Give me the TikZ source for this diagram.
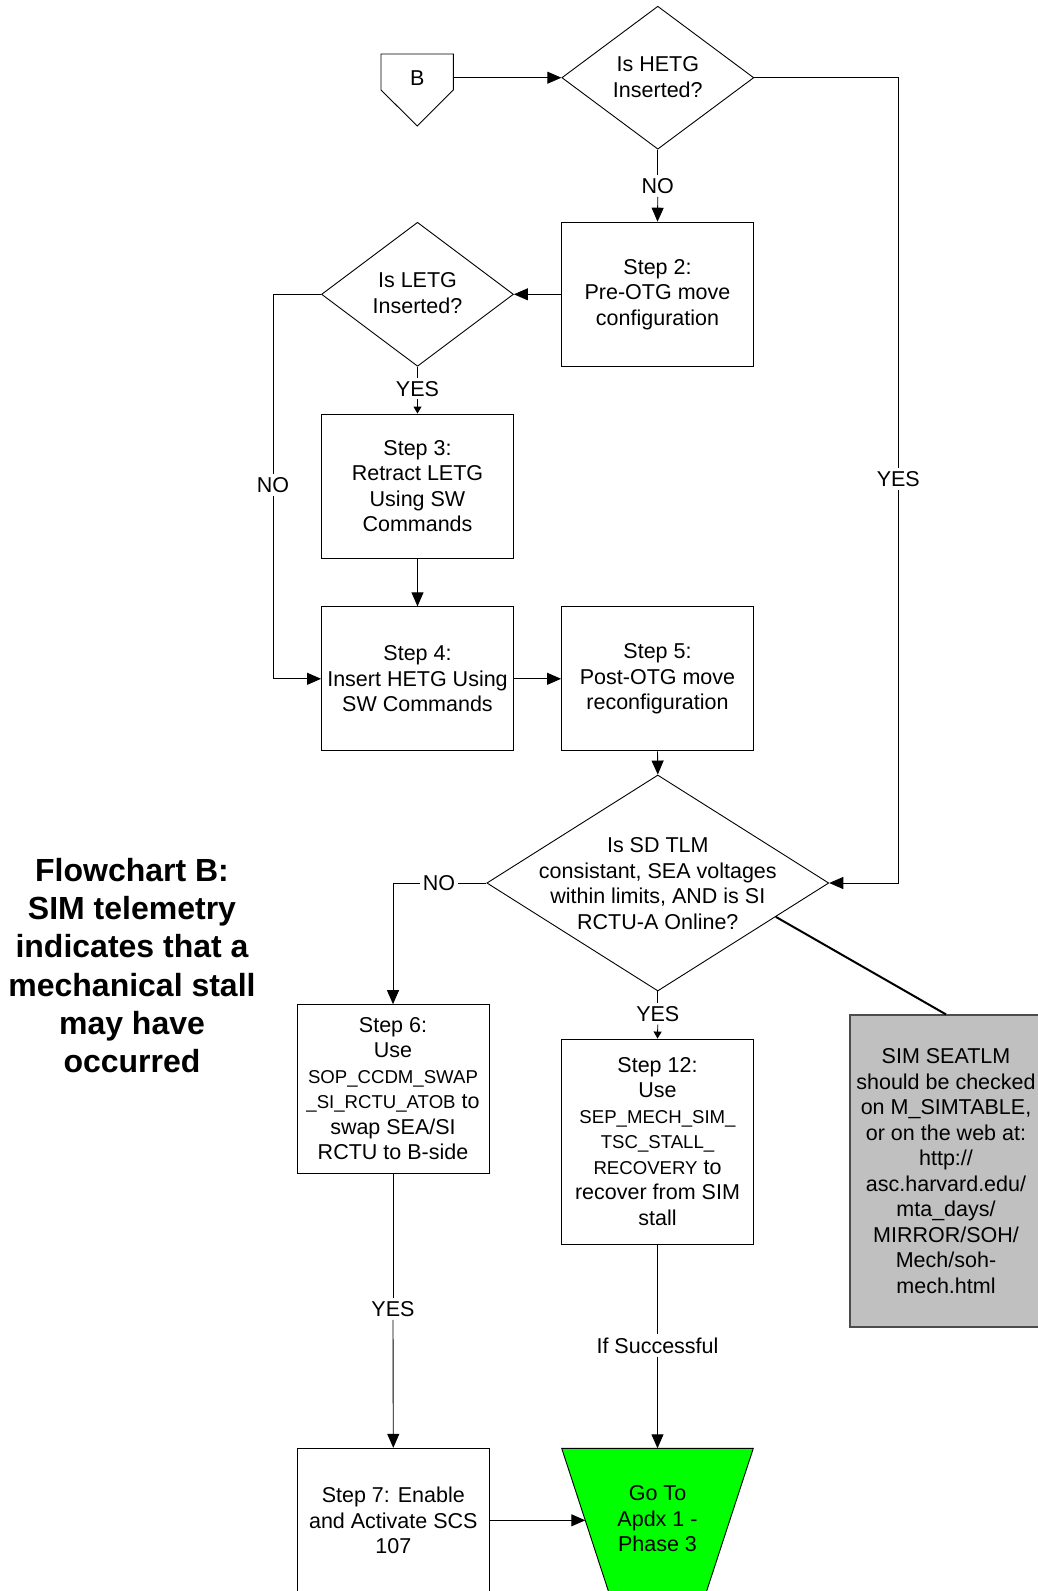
\documentclass[tikz,border=0pt]{standalone}
\usepackage{fontspec}
\setmainfont{Liberation Sans}
\usetikzlibrary{shapes.geometric,arrows.meta,calc}
\definecolor{gogreen}{HTML}{00FF00}
\definecolor{notegray}{HTML}{C0C0C0}
\newcommand\smid{\fontsize{18.6}{25.5}\selectfont}
\begin{document}
\begin{tikzpicture}[x=1pt,y=-1pt,
  base/.style={font=\fontsize{21.5}{25.5}\selectfont, align=center},
  box/.style={base, draw, line width=0.9pt, minimum width=192pt, inner sep=0pt},
  decision/.style={diamond, draw, line width=0.9pt, inner sep=0pt, minimum width=192pt, minimum height=143pt},
  lbl/.style={base, inner sep=3pt},
  wire/.style={line width=0.9pt},
  arr/.style={wire, -{Triangle[length=14pt,width=12pt]}},
  arrs/.style={wire, -{Triangle[length=7pt,width=8pt]}}]

\fill[white] (0,0) rectangle (1037,1591);
\useasboundingbox (0,0) rectangle (1037,1591);

% title
\node[font=\fontsize{32}{38.3}\selectfont\bfseries, align=center] (title) at (132,965.5)
  {Flowchart B:\\SIM telemetry\\indicates that a\\mechanical stall\\may have\\occurred};

% off-page connector B
\draw[wire] (381,54) -- (453.3,54) -- (453.3,90) -- (417.3,126) -- (381,90) -- cycle;
\node[base] (b) at (417.3,78) {B};
\coordinate (bout) at (453.3,77.7);

% decisions and steps
\node[decision] (hetg) at (657.8,77.7) {};
\node[base] (hetgt) at (657.8,77) {Is HETG\\Inserted?};

\node[box, minimum height=144.3pt] (s2) at (657.5,294.3) {Step 2:\\Pre-OTG move\\configuration};

\node[decision, minimum height=144pt] (letg) at (417.5,294.3) {};
\node[base] (letgt) at (417.5,293) {Is LETG\\Inserted?};

\node[box, minimum height=144pt] (s3) at (417.5,486) {Step 3:\\Retract LETG\\Using SW\\Commands};
\node[box, minimum height=144pt] (s4) at (417.5,678.8) {Step 4:\\Insert HETG Using\\SW Commands};
\node[box, minimum height=144pt] (s5) at (657.5,678.8) {Step 5:\\Post-OTG move\\reconfiguration};

\node[decision, minimum width=342pt, minimum height=216pt] (sd) at (657.8,883) {};
\node[base] (sdt) at (657.8,883.5) {Is SD TLM\\consistant, SEA voltages\\within limits, AND is SI\\RCTU-A Online?};

\node[box, minimum height=168.4pt] (s6) at (393,1088.8)
  {Step 6:\\Use\\{\smid SOP\_CCDM\_SWAP}\\{\smid \_SI\_RCTU\_ATOB} to\\swap SEA/SI\\RCTU to B-side};
\node[box, minimum height=205pt] (s12) at (657.5,1141.5)
  {Step 12:\\Use\\{\smid SEP\_MECH\_SIM\_}\\{\smid TSC\_STALL\_}\\{\smid RECOVERY} to\\recover from SIM\\stall};
\node[box, minimum height=144pt] (s7) at (393.3,1520.3) {Step 7: Enable\\and Activate SCS\\107};

% note
\node[base, draw=black!70, line width=1.2pt, fill=notegray, minimum width=192pt, minimum height=312pt, inner sep=0pt] (note) at (946,1171)
  {SIM SEATLM\\should be checked\\on M\_SIMTABLE,\\or on the web at:\\http://\\asc.harvard.edu/\\mta\_days/\\MIRROR/SOH/\\Mech/soh-\\mech.html};

% go-to connector
\filldraw[wire, fill=gogreen] (561.7,1448.3) -- (753.3,1448.3) -- (703.7,1600) -- (611.3,1600) -- cycle;
\node[base] (goto) at (657.5,1519) {Go To\\Apdx 1 -\\Phase 3};
\coordinate (gotoT) at (657.5,1448.3);
\coordinate (gotoL) at (585.3,1520.3);

% connector labels
\node[lbl] (noa) at (657.8,186) {NO};
\node[lbl] (yesa) at (898.3,479) {YES};
\node[lbl] (yesb) at (417.5,388.6) {YES};
\node[lbl] (nob) at (273,485) {NO};
\node[lbl] (noc) at (439,883) {NO};
\node[lbl] (yesc) at (657.8,1013.7) {YES};
\node[lbl] (yesd) at (393,1309) {YES};
\node[lbl] (succ) at (657.5,1345.5) {If Successful};

% connectors
\draw[arr] (bout) -- (hetg.west);
\draw[wire] (hetg.south) -- (noa.north);
\draw[arr] (noa.south) -- (s2.north);
\draw[wire] (hetg.east) -| (yesa.north);
\draw[arr] (yesa.south) |- (sd.east);
\draw[arr] (s2.west) -- (letg.east);
\draw[wire] (letg.south) -- (yesb.north);
\draw[arrs] (yesb.south) -- (s3.north);
\draw[arr] (s3.south) -- (s4.north);
\draw[wire] (letg.west) -| (nob.north);
\draw[arr] (nob.south) |- (s4.west);
\draw[arr] (s4.east) -- (s5.west);
\draw[arr] (s5.south) -- (sd.north);
\draw[wire] (sd.west) -- (noc.east);
\draw[arr] (noc.west) -| (s6.north);
\draw[wire] (sd.south) -- (yesc.north);
\draw[arrs] (yesc.south) -- (s12.north);
\draw[wire] (s6.south) -- (yesd.north);
\draw[arr] (yesd.south) -- (s7.north);
\draw[wire] (s12.south) -- (succ.north);
\draw[arr] (succ.south) -- (gotoT);
\draw[arr] (s7.east) -- (gotoL);
\draw[line width=2pt] (sd.-16) -- (note.north);
\end{tikzpicture}
\end{document}
